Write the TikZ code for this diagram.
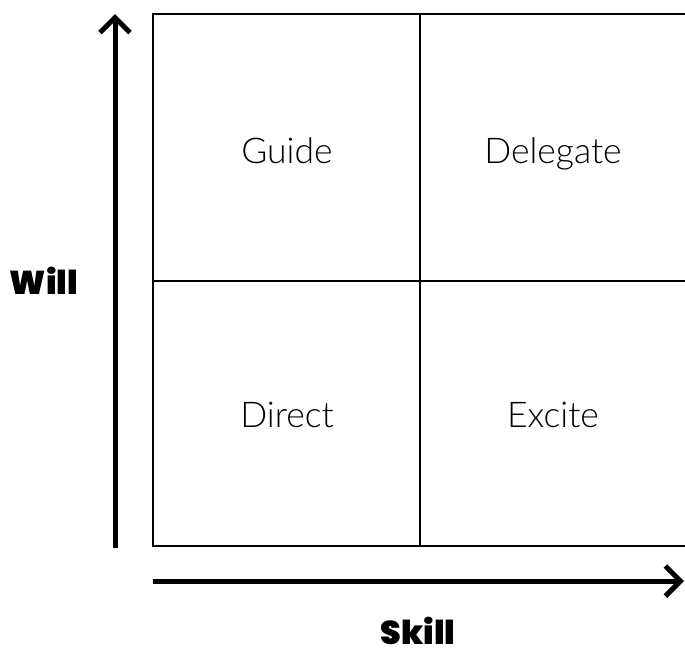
\documentclass[tikz,border=0pt]{standalone}
\usepackage{fontspec}
\setmainfont{Lato Light}
\newfontfamily\heavyfont{Poppins Black}
\usetikzlibrary{arrows.meta}
\begin{document}
\begin{tikzpicture}[x=1pt,y=-1pt,
  gridline/.style={line width=2pt},
  axis/.style={line width=5pt,-{Straight Barb[length=15pt,width=30pt,line width=5pt]}},
  quadlabel/.style={anchor=base,font=\fontsize{35.5}{40}\selectfont},
  axislabel/.style={anchor=base,inner sep=0pt,font=\heavyfont\fontsize{33}{38}\selectfont}]
\useasboundingbox (0,0) rectangle (685,654);
\clip (0,0) rectangle (685,654);
% quadrant grid
\draw[gridline] (153,14) rectangle (688,546);
\draw[gridline] (420,14) -- (420,546);
\draw[gridline] (153,281) -- (688,281);
% quadrant labels
\node[quadlabel] (guide) at (287,163) {Guide};
\node[quadlabel] (delegate) at (553,163) {Delegate};
\node[quadlabel] (direct) at (287,427) {Direct};
\node[quadlabel] (excite) at (553,427) {Excite};
% axes
\coordinate (ybase) at (115,548);
\coordinate (ytip) at (115,14);
\coordinate (xbase) at (153,581);
\coordinate (xtip) at (684,581);
\draw[axis] (ybase) -- (ytip);
\draw[axis] (xbase) -- (xtip);
% axis titles
\node[axislabel] (will) at (44,294) {Will};
\node[axislabel] (skill) at (418,644) {Skill};
\end{tikzpicture}
\end{document}
